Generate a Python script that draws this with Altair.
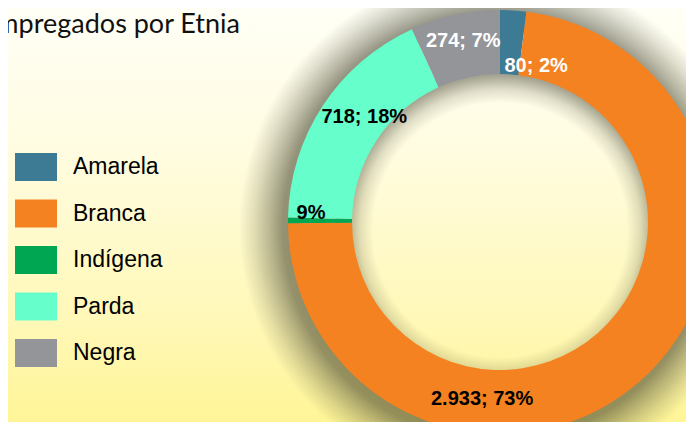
import altair as alt
import pandas as pd

# ---- data ----
categorias = ["Amarela", "Branca", "Indígena", "Parda", "Negra"]
valores = [80, 2933, 17, 718, 274]
rotulos = ["80; 2%", "2.933; 73%", "9%", "718; 18%", "274; 7%"]
cores = ["#3D7B95", "#F58220", "#00A651", "#66FFCC", "#939598"]
titulo = "Empregados por Etnia"

# ---- layout / style ----
W, H = 678, 414
CX, CY = 492, 214
R_OUT, R_IN = 212, 148
R_LBL = 178
# label nudges (dx, dy, colour)
ajustes = {
    "Amarela": (25, 22, "white"),
    "Branca": (-136, 44, "black"),
    "Indígena": (-11, -8, "black"),
    "Parda": (13, -7, "black"),
    "Negra": (1, -7, "white"),
}

df = pd.DataFrame({
    "Etnia": categorias,
    "valor": valores,
    "rotulo": rotulos,
    "ordem": list(range(len(categorias))),
})
one = pd.DataFrame({"t": [titulo]})

# background gradient
fundo = alt.Chart(one).mark_rect(
    color=alt.Gradient(
        gradient="linear",
        stops=[
            alt.GradientStop(color="#FFFFF6", offset=0),
            alt.GradientStop(color="#FFFCE0", offset=0.35),
            alt.GradientStop(color="#FFF8B8", offset=0.75),
            alt.GradientStop(color="#FFF597", offset=1),
        ],
        x1=0, x2=0, y1=0, y2=1,
    )
).encode(x=alt.value(0), x2=alt.value(W), y=alt.value(0), y2=alt.value(H))

sombra_ext = alt.Chart(one).mark_arc(
    radius=258, theta=0, theta2=6.2832,
    fill=alt.Gradient(
        gradient="radial",
        stops=[
            alt.GradientStop(color="rgba(50,50,30,0)", offset=0),
            alt.GradientStop(color="rgba(50,50,30,0)", offset=0.74),
            alt.GradientStop(color="rgba(50,50,30,0.55)", offset=0.78),
            alt.GradientStop(color="rgba(50,50,30,0.52)", offset=0.83),
            alt.GradientStop(color="rgba(50,50,30,0.34)", offset=0.88),
            alt.GradientStop(color="rgba(50,50,30,0.15)", offset=0.94),
            alt.GradientStop(color="rgba(50,50,30,0)", offset=1),
        ],
        x1=0.5, y1=0.5, x2=0.5, y2=0.5, r1=0, r2=0.5,
    ),
).encode(x=alt.value(CX - 3), y=alt.value(CY + 5))

sombra_int = alt.Chart(one).mark_arc(
    radius=165, theta=0, theta2=6.2832,
    fill=alt.Gradient(
        gradient="radial",
        stops=[
            alt.GradientStop(color="rgba(50,50,30,0)", offset=0),
            alt.GradientStop(color="rgba(50,50,30,0)", offset=0.77),
            alt.GradientStop(color="rgba(50,50,30,0.15)", offset=0.85),
            alt.GradientStop(color="rgba(50,50,30,0.42)", offset=0.93),
            alt.GradientStop(color="rgba(50,50,30,0.58)", offset=1),
        ],
        x1=0.5, y1=0.5, x2=0.5, y2=0.5, r1=0, r2=0.5,
    ),
).encode(x=alt.value(CX), y=alt.value(CY + 8))

arcos = alt.Chart(df).mark_arc(radius=R_OUT, radius2=R_IN, strokeWidth=0).encode(
    theta=alt.Theta("valor:Q", stack=True),
    order=alt.Order("ordem:Q"),
    color=alt.Color(
        "Etnia:N",
        scale=alt.Scale(domain=categorias, range=cores),
        legend=alt.Legend(
            title=None, orient="none", legendX=7, legendY=145,
            symbolType="M-1.5,-1L1.5,-1L1.5,1L-1.5,1Z", symbolSize=784,
            symbolStrokeWidth=0, symbolOpacity=1, symbolOffset=7,
            labelFontSize=23, labelFont="Liberation Sans", labelColor="black",
            labelOffset=23, rowPadding=18.5, padding=0,
        ),
    ),
    x=alt.value(CX), y=alt.value(CY),
)

base_lbl = alt.Chart(df).transform_window(
    cum="sum(valor)", sort=[alt.SortField("ordem")]
).transform_joinaggregate(total="sum(valor)").transform_calculate(
    mid="(datum.cum - datum.valor/2)/datum.total*2*PI"
).transform_calculate(
    px=f"{CX} + {R_LBL}*sin(datum.mid)",
    py=f"{CY} - {R_LBL}*cos(datum.mid)",
)

textos = []
for cat in categorias:
    dx, dy, col = ajustes[cat]
    textos.append(
        base_lbl.transform_filter(alt.datum.Etnia == cat).mark_text(
            dx=dx, dy=dy, color=col, fontSize=20, fontWeight="bold",
            font="Liberation Sans", align="center", baseline="middle",
        ).encode(
            x=alt.X("px:Q", scale=None),
            y=alt.Y("py:Q", scale=None),
            text="rotulo:N",
        )
    )

tit = alt.Chart(one).mark_text(
    align="right", baseline="alphabetic", font="Lato", fontSize=27, color="#111111"
).encode(x=alt.value(232), y=alt.value(25), text="t:N")

chart = alt.layer(fundo, sombra_ext, sombra_int, arcos, *textos, tit).properties(
    width=W, height=H, padding=0, autosize=alt.AutoSizeParams(type="none")
).configure_view(strokeWidth=0)

chart.save("out.html", embed_options={"renderer": "svg", "actions": False})
